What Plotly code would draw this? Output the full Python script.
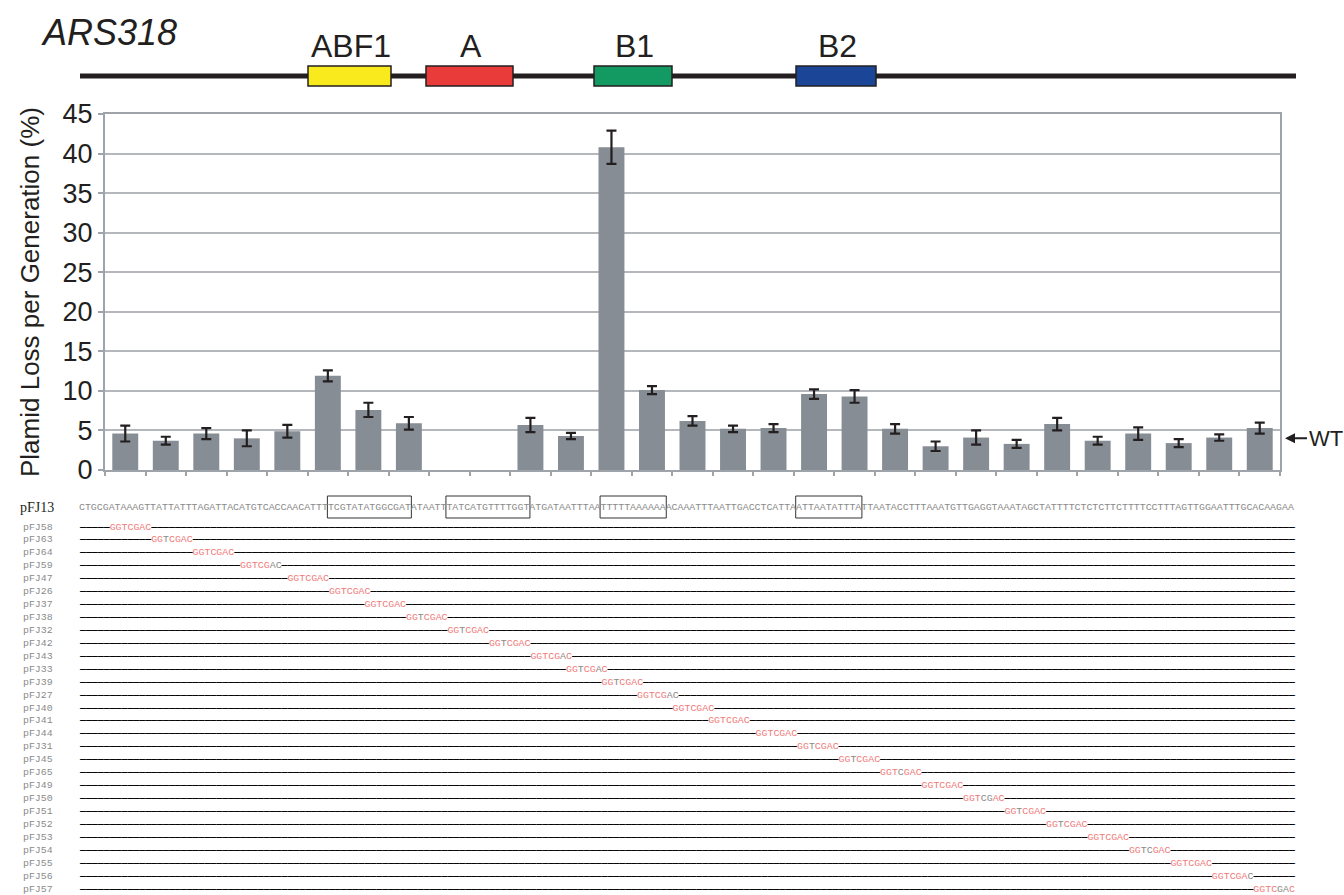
import plotly.graph_objects as go

# ---------------- data ----------------
plasmids = ["pFJ58", "pFJ63", "pFJ64", "pFJ59", "pFJ47", "pFJ26", "pFJ37", "pFJ38",
            "pFJ32", "pFJ42", "pFJ43", "pFJ33", "pFJ39", "pFJ27", "pFJ40", "pFJ41",
            "pFJ44", "pFJ31", "pFJ45", "pFJ65", "pFJ49", "pFJ50", "pFJ51", "pFJ52",
            "pFJ53", "pFJ54", "pFJ55", "pFJ56", "pFJ57"]
plasmid_loss = [4.6, 3.7, 4.6, 4.0, 4.9, 11.9, 7.6, 5.9, None, None, 5.7, 4.3, 40.8, 10.1,
                6.2, 5.2, 5.3, 9.6, 9.3, 5.2, 3.0, 4.1, 3.3, 5.8, 3.7, 4.6, 3.4, 4.1, 5.3]
loss_error = [1.0, 0.5, 0.7, 1.0, 0.8, 0.7, 0.9, 0.8, None, None, 0.9, 0.4, 2.1, 0.5,
              0.6, 0.4, 0.5, 0.6, 0.8, 0.6, 0.6, 0.9, 0.5, 0.8, 0.5, 0.8, 0.5, 0.4, 0.7]
wt_loss = 4.0
y_ticks = [0, 5, 10, 15, 20, 25, 30, 35, 40, 45]

wt_name = "pFJ13"
wt_sequence = ("CTGCGATAAAGTTATTATTTAGATTACATGTCACCAACATTTTCGTATATGGCGATATAA"
               "TTTATCATGTTTTGGTATGATAATTTAATTTTTAAAAAAACAAATTTAATTGACCTCATT"
               "AATTAATATTTATTAATACCTTTAAATGTTGAGGTAAATAGCTATTTTCTCTCTTCTTTT"
               "CCTTTAGTTGGAATTTGCACAAGAA")
linker = "GGTCGAC"
linker_start = [5, 12, 19, 27, 35, 42, 48, 55, 62, 69, 76, 82, 88, 94, 100, 106,
                114, 121, 128, 135, 142, 149, 156, 163, 170, 177, 184, 191, 198]
# r = changed base (red), g = same as wild type (gray)
linker_mask = ["rrrrrrr", "rrgrrrr", "rrrrrrr", "rrrrrgg", "rrrrrrr", "rrrrrrr",
               "rrrrrrr", "rrgrrrr", "rrgrrrr", "rrgrrrr", "rrrrrgr", "rrgrrgr",
               "rrgrrrr", "rrrrrgg", "rrrrrrr", "rrrrrrr", "rrrrrrr", "rrgrrrr",
               "rrgrrrr", "rrrgrrr", "rrrrrrr", "rrrggrr", "rrgrrrr", "rrgrrrr",
               "rrrrrrr", "rrggrrr", "rrrrrrr", "rrrrrrg", "rrrrggr"]
motif_spans = [(42, 56), (62, 76), (88, 99), (121, 132)]
element_names = ["ABF1", "A", "B1", "B2"]
element_colors = ["#f8ea1c", "#ea3b3b", "#139a63", "#1b4596"]

# ---------------- layout helpers ----------------
W, H = 1344, 895
L, R, T, B = 105, 1280, 114, 470


def px(x):
    return (x - L) / (R - L)


def py(y):
    return (B - y) / (B - T)


fig = go.Figure()
fig.add_trace(go.Bar(
    x=plasmids, y=plasmid_loss,
    marker=dict(color="#878d94", line=dict(width=0)),
    error_y=dict(type="data", array=loss_error, visible=True,
                 color="#231f20", thickness=2.2, width=5),
    width=0.64,
))

shapes = []
annotations = []

# title
annotations.append(dict(x=px(39), y=py(32), xref="paper", yref="paper",
                        text="<i>ARS318</i>", showarrow=False, xanchor="left",
                        yanchor="middle",
                        font=dict(family="Liberation Sans", size=36, color="#231f20")))

# element map
shapes.append(dict(type="line", xref="paper", yref="paper",
                   x0=px(80), x1=px(1296), y0=py(76), y1=py(76),
                   line=dict(color="#231f20", width=5)))
element_px = [(308, 391), (426, 513), (594, 672), (796, 876)]
for (x0, x1), name, col in zip(element_px, element_names, element_colors):
    shapes.append(dict(type="rect", xref="paper", yref="paper",
                       x0=px(x0), x1=px(x1), y0=py(86), y1=py(66),
                       fillcolor=col, line=dict(color="#231f20", width=1.5)))
    annotations.append(dict(x=px((x0 + x1) / 2 + 1), y=py(46), xref="paper", yref="paper",
                            text=name, showarrow=False, xanchor="center", yanchor="middle",
                            font=dict(family="Liberation Sans", size=32, color="#231f20")))

# y-axis title
annotations.append(dict(x=px(30), y=py(292), xref="paper", yref="paper",
                        text="Plamid Loss per Generation (%)", showarrow=False,
                        textangle=-90, xanchor="center", yanchor="middle",
                        font=dict(family="Liberation Sans", size=26, color="#231f20")))

# WT arrow
annotations.append(dict(x=px(1285), y=wt_loss, xref="paper", yref="y",
                        text="WT", showarrow=True, ax=22, ay=0, xanchor="left",
                        arrowhead=2, arrowsize=1, arrowwidth=2, arrowcolor="#231f20",
                        font=dict(family="Liberation Sans", size=22, color="#231f20")))

# sequence block
cw = 5.928
fs = cw / 0.6
x_seq = 79.4
mono = "Liberation Mono"
annotations.append(dict(x=px(56), y=py(507), xref="paper", yref="paper",
                        text=wt_name, showarrow=False, xanchor="right", yanchor="middle",
                        font=dict(family="Liberation Serif", size=14, color="#231f20")))
annotations.append(dict(x=px(x_seq - 2), y=py(507), xref="paper", yref="paper",
                        text=wt_sequence, showarrow=False, xanchor="left", yanchor="middle",
                        font=dict(family=mono, size=fs, color="#8a8a8a")))
for a, b in motif_spans:
    shapes.append(dict(type="rect", xref="paper", yref="paper",
                       x0=px(x_seq + a * cw - 1), x1=px(x_seq + b * cw),
                       y0=py(518), y1=py(496),
                       line=dict(color="#333333", width=1)))

red = "#f07a7a"
gray = "#8a8a8a"
n = len(wt_sequence)
dash = "\u2014"
for i, (name, start, mask) in enumerate(zip(plasmids, linker_start, linker_mask)):
    yy = 527 + i * 12.93
    ins = "".join(f"<span style='color:{red if m == 'r' else gray}'>{c}</span>"
                  for c, m in zip(linker, mask))
    left = f"<b>{dash * start}</b>" if start > 0 else ""
    rest = n - start - len(linker)
    right = f"<b>{dash * rest}</b>" if rest > 0 else ""
    txt = left + ins + right
    annotations.append(dict(x=px(x_seq - 2), y=py(yy), xref="paper", yref="paper",
                            text=txt, showarrow=False, xanchor="left", yanchor="middle",
                            font=dict(family=mono, size=fs, color="#000000")))
    annotations.append(dict(x=px(55), y=py(yy), xref="paper", yref="paper",
                            text=name, showarrow=False, xanchor="right", yanchor="middle",
                            font=dict(family=mono, size=fs, color="#8a8a8a")))

fig.update_layout(
    width=W, height=H, autosize=False,
    margin=dict(l=L, r=W - R, t=T, b=H - B, pad=0),
    paper_bgcolor="white", plot_bgcolor="white",
    showlegend=False,
    shapes=shapes, annotations=annotations,
    xaxis=dict(type="category", range=[-0.5, len(plasmids) - 0.5],
               showticklabels=False, ticks="outside", tickson="boundaries",
               ticklen=4, tickcolor="#9ea4aa", tickwidth=2,
               showline=True, linecolor="#9ea4aa", linewidth=2, mirror=True,
               showgrid=False, zeroline=False),
    yaxis=dict(range=[0, 45], tickvals=y_ticks, ticks="outside", ticklen=5,
               tickcolor="#9ea4aa", tickwidth=2,
               showline=True, linecolor="#9ea4aa", linewidth=2, mirror=True,
               showgrid=True, gridcolor="#b4b8bc", gridwidth=1.5, zeroline=False,
               tickfont=dict(family="Liberation Sans", size=27, color="#231f20")),
)

fig.write_html("out.html", config={"displayModeBar": False},
               post_script="document.body.style.margin='0px';document.body.style.overflow='hidden';")
